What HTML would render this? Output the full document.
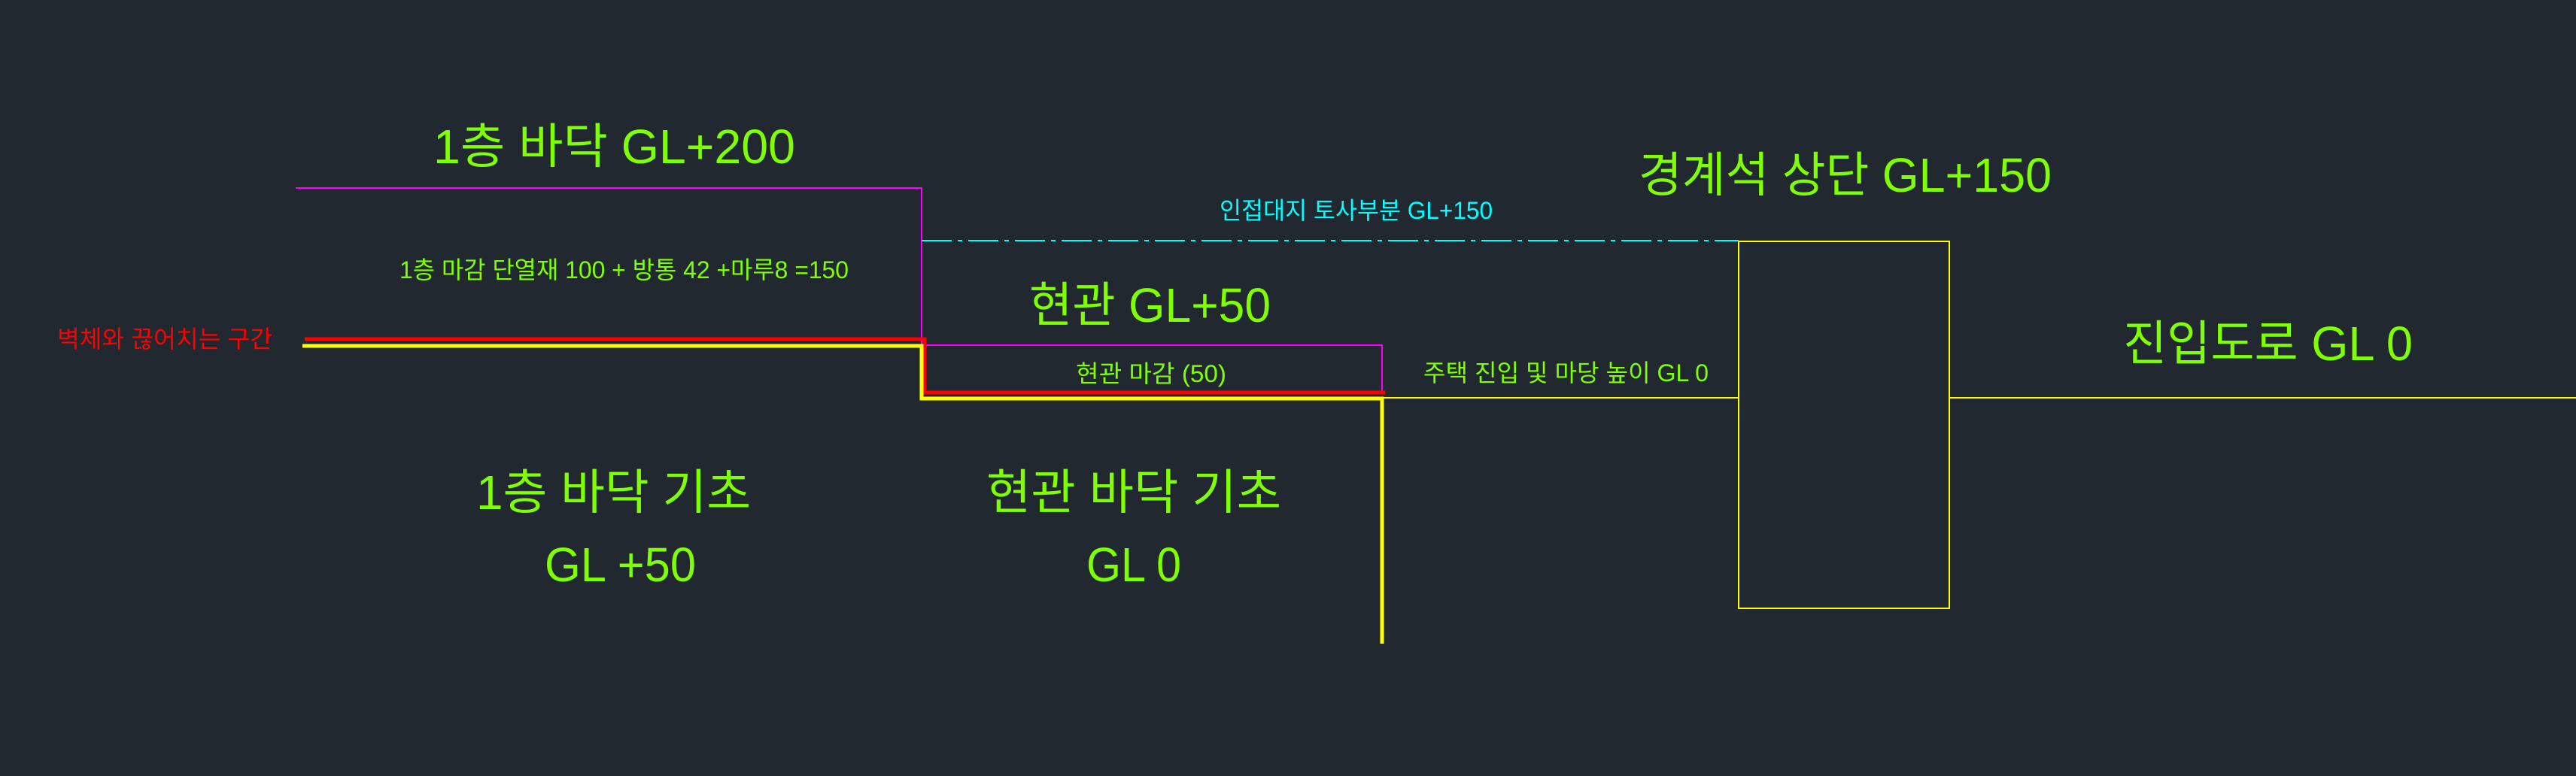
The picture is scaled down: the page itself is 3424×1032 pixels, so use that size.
<!DOCTYPE html>
<html><head><meta charset="utf-8"><style>
html,body{margin:0;padding:0;background:#212830;}
svg{display:block}
text{font-family:"Liberation Sans","Noto Sans CJK KR",sans-serif;fill:#80ff00}
</style></head><body>
<svg width="3424" height="1032" viewBox="0 0 3424 1032" xmlns="http://www.w3.org/2000/svg">
<rect width="3424" height="1032" fill="#212830"/>
<polyline points="393,250 1225,250 1225,459" fill="none" stroke="#ff00ff" stroke-width="2"/>
<polyline points="1229,459 1837,459 1837,523" fill="none" stroke="#ff00ff" stroke-width="2"/>
<line x1="1225" y1="320" x2="2311" y2="320" stroke="#00ffff" stroke-width="2" stroke-dasharray="40,8,6,8"/>
<polyline points="405,451 1229,451 1229,522 1841,522" fill="none" stroke="#ff0000" stroke-width="5"/>
<polyline points="402,460 1225,460 1225,530 1837,530 1837,856" fill="none" stroke="#ffff00" stroke-width="5"/>
<line x1="1837" y1="529" x2="2311" y2="529" stroke="#ffff00" stroke-width="2"/>
<rect x="2311" y="321" width="280" height="488" fill="none" stroke="#ffff00" stroke-width="2"/>
<line x1="2591" y1="529" x2="3424" y2="529" stroke="#ffff00" stroke-width="2"/>
<text x="576" y="217" font-size="64" textLength="481" lengthAdjust="spacingAndGlyphs">1층 바닥  GL+200</text>
<text x="531" y="370" font-size="32" textLength="597" lengthAdjust="spacingAndGlyphs">1층 마감 단열재 100 + 방통 42 +마루8 =150</text>
<text x="76" y="462" font-size="32" textLength="286" lengthAdjust="spacingAndGlyphs" style="fill:#ff0000">벽체와 끊어치는 구간</text>
<text x="1621" y="291" font-size="32" textLength="363" lengthAdjust="spacingAndGlyphs" style="fill:#00ffff">인접대지 토사부분 GL+150</text>
<text x="2178" y="255" font-size="64" textLength="549" lengthAdjust="spacingAndGlyphs">경계석 상단 GL+150</text>
<text x="1368" y="428" font-size="64" textLength="321" lengthAdjust="spacingAndGlyphs">현관 GL+50</text>
<text x="1430" y="508" font-size="32" textLength="200" lengthAdjust="spacingAndGlyphs">현관 마감 (50)</text>
<text x="1892" y="507" font-size="32" textLength="379" lengthAdjust="spacingAndGlyphs">주택 진입 및 마당 높이 GL 0</text>
<text x="2822" y="479" font-size="64" textLength="385" lengthAdjust="spacingAndGlyphs">진입도로 GL 0</text>
<text x="633" y="677" font-size="64" textLength="365" lengthAdjust="spacingAndGlyphs">1층 바닥 기초</text>
<text x="724" y="773" font-size="64" textLength="201" lengthAdjust="spacingAndGlyphs">GL +50</text>
<text x="1311" y="677" font-size="64" textLength="392" lengthAdjust="spacingAndGlyphs">현관 바닥 기초</text>
<text x="1444" y="773" font-size="64" textLength="126" lengthAdjust="spacingAndGlyphs">GL 0</text>
</svg>
</body></html>
